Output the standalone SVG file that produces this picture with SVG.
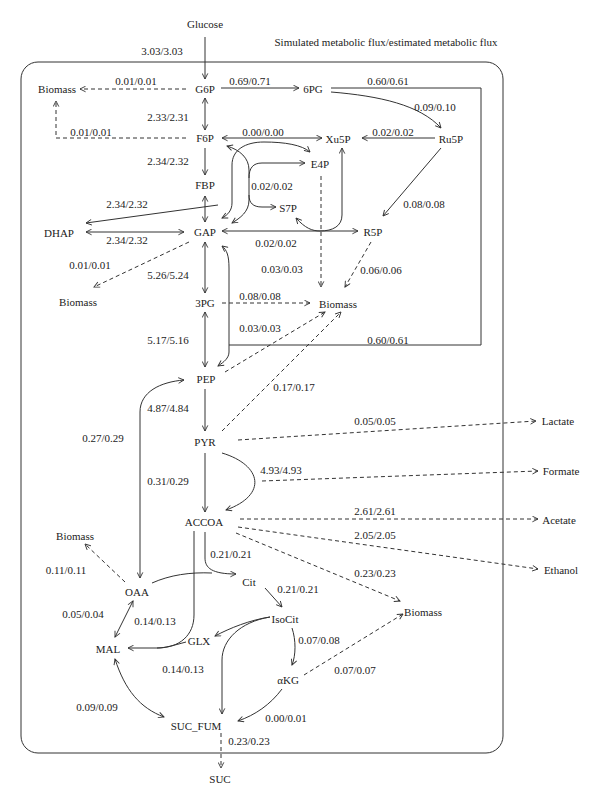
<svg xmlns="http://www.w3.org/2000/svg" width="600" height="807" viewBox="0 0 600 807">
<style>
text{font-family:"Liberation Serif","Times New Roman",serif;font-size:11px;fill:#222;text-anchor:middle}
.c path,.c line{fill:none;stroke:#333;stroke-width:1}
.c .d{stroke-dasharray:4,3}
.e{marker-end:url(#ah)}
.b{marker-start:url(#ah);marker-end:url(#ah)}
</style>
<defs>
<marker id="ah" viewBox="0 0 10 10" refX="9" refY="5" markerWidth="7" markerHeight="7" markerUnits="userSpaceOnUse" orient="auto-start-reverse"><path d="M1,1 L9,5 L1,9" fill="none" stroke="#333" stroke-width="1.3"/></marker>
</defs>
<rect width="600" height="807" fill="#fff"/>
<rect x="21" y="62" width="482" height="691" rx="17" fill="none" stroke="#333" stroke-width="1"/>
<text x="386" y="46">Simulated metabolic flux/estimated metabolic flux</text>
<g class="c" id="connectors">
<path class="e" d="M205,37 V79"/>
<path class="d e" d="M186,89 H80"/>
<path class="d e" d="M186,138 H56 V101"/>
<path class="b" d="M205,98 V130"/>
<path class="e" d="M221,88 H299"/>
<path class="e" d="M205,148 V175"/>
<path class="b" d="M205,196 V222"/>
<path class="e" d="M218,205 L86,223"/>
<path class="b" d="M86,232 H184"/>
<path class="d e" d="M189,242 L94,287"/>
<path class="b" d="M205,242 V293"/>
<path class="b" d="M205,312 V367"/>
<path class="e" d="M205,389 V431"/>
<path class="e" d="M205,453 V512"/>
<path class="e" d="M222,453 C262,465 268,495 226,510"/>
<path d="M331,88 H481 V345 H229"/>
<path class="e" d="M229,345 V268 C229,256 227,250 222,246"/>
<path class="e" d="M229,345 V352 C229,358 224,362 218,366"/>
<path class="e" d="M331,92 C380,96 420,105 441,128"/>
<path class="e" d="M435,138 H362"/>
<path class="b" d="M222,138 H322"/>
<path class="e" d="M441,148 L383,216"/>
<path class="b" d="M222,231 H358"/>
<path class="b" d="M227,146 C240,150 249,158 249,170 V200 C249,212 240,218 232,223"/>
<path class="e" d="M249,178 C249,168 253,163 262,163 H305"/>
<path class="e" d="M249,195 C249,203 253,207 262,207 H276"/>
<path class="b" d="M310,152 C302,145 285,142 264,142 C245,142 232,150 232,165 V203 C232,210 228,215 222,218"/>
<path class="b" d="M296,218 C305,228 312,231 320,231 C333,231 342,226 342,215 V148"/>
<path class="d e" d="M321,176 V287"/>
<path class="d e" d="M371,242 L345,287"/>
<path class="d e" d="M222,303 H310"/>
<path class="d e" d="M225,372 L325,312"/>
<path class="d e" d="M222,431 L341,312"/>
<path class="d e" d="M238,440 L536,421"/>
<path class="d e" d="M262,481 L538,471"/>
<path class="d e" d="M240,519 H538"/>
<path class="d e" d="M238,527 L538,569"/>
<path class="d e" d="M236,533 L400,601"/>
<path class="d e" d="M304,675 L403,614"/>
<path class="d e" d="M125,582 L85,544"/>
<path class="b" d="M184,380 C160,382 140,392 140,412 V578"/>
<path class="e" d="M205,532 V558 C205,568 212,574 236,574"/>
<path d="M152,583 C170,575 190,572 212,573"/>
<path class="e" d="M194,531 V615 C194,635 180,648 157,648 H128"/>
<path d="M186,642 C175,645 165,648 157,648"/>
<path class="e" d="M265,588 L282,607"/>
<path class="e" d="M270,617 C250,620 230,628 215,636"/>
<path class="e" d="M270,617 C240,622 222,640 222,660 V714"/>
<path class="e" d="M292,628 C296,640 296,655 292,665"/>
<path class="e" d="M282,689 C270,705 255,715 238,721"/>
<path class="b" d="M133,601 L115,637"/>
<path class="b" d="M115,659 C125,690 140,708 164,717"/>
<path class="d e" d="M221,733 V768"/>
</g>
<g id="labels">
<text x="162" y="55">3.03/3.03</text>
<text x="136" y="85">0.01/0.01</text>
<text x="91" y="136">0.01/0.01</text>
<text x="168" y="121">2.33/2.31</text>
<text x="168" y="165">2.34/2.32</text>
<text x="250" y="85">0.69/0.71</text>
<text x="388" y="85">0.60/0.61</text>
<text x="435" y="111">0.09/0.10</text>
<text x="263" y="136">0.00/0.00</text>
<text x="393" y="136">0.02/0.02</text>
<text x="272" y="190">0.02/0.02</text>
<text x="127" y="208">2.34/2.32</text>
<text x="127" y="244">2.34/2.32</text>
<text x="424" y="208">0.08/0.08</text>
<text x="276" y="247">0.02/0.02</text>
<text x="90" y="269">0.01/0.01</text>
<text x="282" y="273">0.03/0.03</text>
<text x="381" y="274">0.06/0.06</text>
<text x="168" y="279">5.26/5.24</text>
<text x="260" y="300">0.08/0.08</text>
<text x="260" y="332">0.03/0.03</text>
<text x="168" y="344">5.17/5.16</text>
<text x="388" y="344">0.60/0.61</text>
<text x="294" y="391">0.17/0.17</text>
<text x="168" y="412">4.87/4.84</text>
<text x="103" y="442">0.27/0.29</text>
<text x="375" y="425">0.05/0.05</text>
<text x="281" y="474">4.93/4.93</text>
<text x="168" y="485">0.31/0.29</text>
<text x="375" y="515">2.61/2.61</text>
<text x="375" y="539">2.05/2.05</text>
<text x="231" y="558">0.21/0.21</text>
<text x="66" y="574">0.11/0.11</text>
<text x="375" y="577">0.23/0.23</text>
<text x="298" y="593">0.21/0.21</text>
<text x="83" y="618">0.05/0.04</text>
<text x="155" y="625">0.14/0.13</text>
<text x="319" y="644">0.07/0.08</text>
<text x="183" y="673">0.14/0.13</text>
<text x="355" y="674">0.07/0.07</text>
<text x="97" y="711">0.09/0.09</text>
<text x="286" y="722">0.00/0.01</text>
<text x="249" y="745">0.23/0.23</text>
</g>
<g id="n-glucose"><text x="205" y="28">Glucose</text></g>
<g id="n-g6p"><text x="205" y="93">G6P</text></g>
<g id="n-6pg"><text x="313" y="93">6PG</text></g>
<g id="n-f6p"><text x="205" y="142">F6P</text></g>
<g id="n-xu5p"><text x="338" y="143">Xu5P</text></g>
<g id="n-ru5p"><text x="451" y="143">Ru5P</text></g>
<g id="n-e4p"><text x="320" y="168">E4P</text></g>
<g id="n-s7p"><text x="288" y="212">S7P</text></g>
<g id="n-fbp"><text x="205" y="189">FBP</text></g>
<g id="n-dhap"><text x="59" y="237">DHAP</text></g>
<g id="n-gap"><text x="205" y="236">GAP</text></g>
<g id="n-r5p"><text x="373" y="236">R5P</text></g>
<g id="n-biomass1"><text x="57" y="93">Biomass</text></g>
<g id="n-biomass2"><text x="78" y="306">Biomass</text></g>
<g id="n-biomass3"><text x="338" y="308">Biomass</text></g>
<g id="n-3pg"><text x="205" y="307">3PG</text></g>
<g id="n-pep"><text x="206" y="383">PEP</text></g>
<g id="n-pyr"><text x="205" y="446">PYR</text></g>
<g id="n-lactate"><text x="558" y="425">Lactate</text></g>
<g id="n-formate"><text x="561" y="475">Formate</text></g>
<g id="n-accoa"><text x="204" y="526">ACCOA</text></g>
<g id="n-acetate"><text x="559" y="524">Acetate</text></g>
<g id="n-ethanol"><text x="561" y="574">Ethanol</text></g>
<g id="n-biomass4"><text x="75" y="540">Biomass</text></g>
<g id="n-oaa"><text x="137" y="596">OAA</text></g>
<g id="n-cit"><text x="249" y="586">Cit</text></g>
<g id="n-biomass5"><text x="423" y="616">Biomass</text></g>
<g id="n-isocit"><text x="285" y="623">IsoCit</text></g>
<g id="n-glx"><text x="199" y="645">GLX</text></g>
<g id="n-mal"><text x="108" y="653">MAL</text></g>
<g id="n-akg"><text x="288" y="684">αKG</text></g>
<g id="n-sucfum"><text x="196" y="730">SUC_FUM</text></g>
<g id="n-suc"><text x="220" y="783">SUC</text></g>
</svg>
